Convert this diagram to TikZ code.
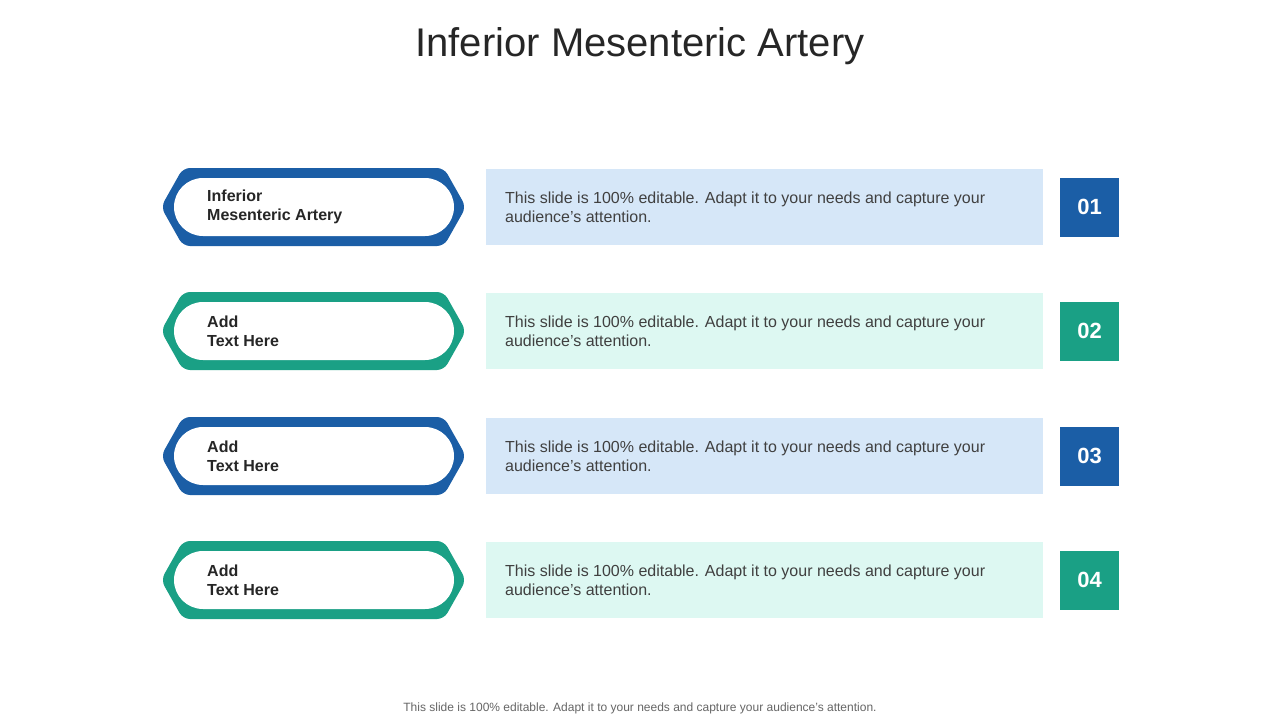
\documentclass[tikz,border=0pt]{standalone}
\usepackage{fontspec}
\setmainfont{Liberation Sans}
\definecolor{cblue}{HTML}{1B5EA6}
\definecolor{cteal}{HTML}{1AA085}
\definecolor{lblue}{HTML}{D6E7F8}
\definecolor{lteal}{HTML}{DDF8F2}
\definecolor{ctext}{HTML}{404040}
\tikzset{
 desc/.style={anchor=west,align=left,font=\fontsize{16}{19}\selectfont,text=ctext,inner sep=0pt},
 lab/.style={anchor=west,align=left,font=\bfseries\fontsize{16}{19}\selectfont,text=black!85,inner sep=0pt},
 num/.style={minimum width=59pt,minimum height=59pt,inner sep=0pt,text=white,font=\bfseries\fontsize{22}{24}\selectfont},
}
\begin{document}
\begin{tikzpicture}[x=1pt,y=-1pt]
\useasboundingbox[fill=white] (0,0) rectangle (1280,720);
\node[font=\fontsize{40}{46}\selectfont,text=black!85] (title) at (640,46) {Inferior Mesenteric Artery};
\foreach \y/\c/\l/\t/\n in {207/cblue/lblue/{Inferior\\Mesenteric Artery}/01,331/cteal/lteal/{Add\\Text Here}/02,456/cblue/lblue/{Add\\Text Here}/03,580/cteal/lteal/{Add\\Text Here}/04}{
 \fill[\c,rounded corners=7pt] (161,\y) -- (183,\y-39) -- (444,\y-39) -- (466,\y) -- (444,\y+39) -- (183,\y+39) -- cycle;
 \fill[white,rounded corners=29pt] (174,\y-29) rectangle (454,\y+29);
 \node[lab] (lab\n) at (207,\y) {\t};
 \fill[\l] (486,\y-38) rectangle (1043,\y+38);
 \node[desc] (desc\n) at (505,\y) {This slide is 100\% editable. Adapt it to your needs and capture your\\audience's attention.};
 \node[num,fill=\c] (num\n) at (1089.5,\y) {\n};
}
\node[font=\fontsize{12}{14}\selectfont,text=black!60] (foot) at (640,708) {This slide is 100\% editable. Adapt it to your needs and capture your audience's attention.};
\end{tikzpicture}
\end{document}
